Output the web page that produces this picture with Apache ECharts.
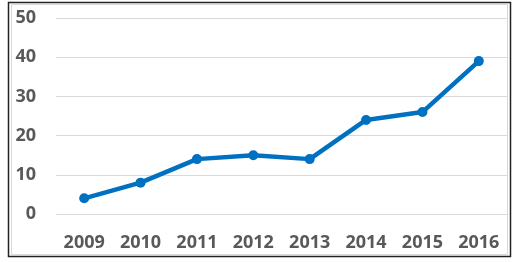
<!DOCTYPE html>
<html>
<head>
<meta charset="utf-8">
<script src="https://cdn.jsdelivr.net/npm/echarts@6/dist/echarts.min.js"></script>
<style>
  html, body { margin: 0; padding: 0; background: #fff; }
  #chart { width: 514px; height: 262px; }
</style>
</head>
<body>
<div id="chart"></div>
<script>
const years = ['2009', '2010', '2011', '2012', '2013', '2014', '2015', '2016']
const values = [4, 8, 14, 15, 14, 24, 26, 39]

const chart = echarts.init(document.getElementById('chart'))

const labelColor = '#595959'

chart.setOption({
  animation: false,
  backgroundColor: '#fff',
  graphic: [
    // outer frame
    {
      type: 'rect',
      shape: { x: 8.5, y: 2.5, width: 502, height: 254 },
      style: { fill: 'none', stroke: '#222', lineWidth: 1.5 }
    },
    // inner chart area border
    {
      type: 'rect',
      shape: { x: 11.5, y: 4.5, width: 496, height: 250 },
      style: { fill: 'none', stroke: '#d9d9d9', lineWidth: 1 }
    }
  ],
  grid: {
    left: 56,
    right: 7,
    top: 18,
    bottom: 48,
    containLabel: false
  },
  xAxis: {
    type: 'category',
    data: years,
    boundaryGap: true,
    axisLine: { show: false },
    axisTick: { show: false },
    axisLabel: {
      color: labelColor,
      fontFamily: 'Open Sans',
      fontWeight: 'bold',
      fontSize: 18,
      margin: 20
    }
  },
  yAxis: {
    type: 'value',
    min: 0,
    max: 50,
    interval: 10,
    axisLine: { show: false },
    axisTick: { show: false },
    axisLabel: {
      color: labelColor,
      fontFamily: 'Open Sans',
      fontWeight: 'bold',
      fontSize: 18,
      margin: 20
    },
    splitLine: {
      lineStyle: { color: '#d9d9d9', width: 1 }
    }
  },
  series: [
    {
      type: 'line',
      data: values,
      symbol: 'circle',
      symbolSize: 10,
      lineStyle: { color: '#0070c0', width: 4.5 },
      itemStyle: { color: '#0070c0' }
    }
  ]
})
</script>
</body>
</html>
